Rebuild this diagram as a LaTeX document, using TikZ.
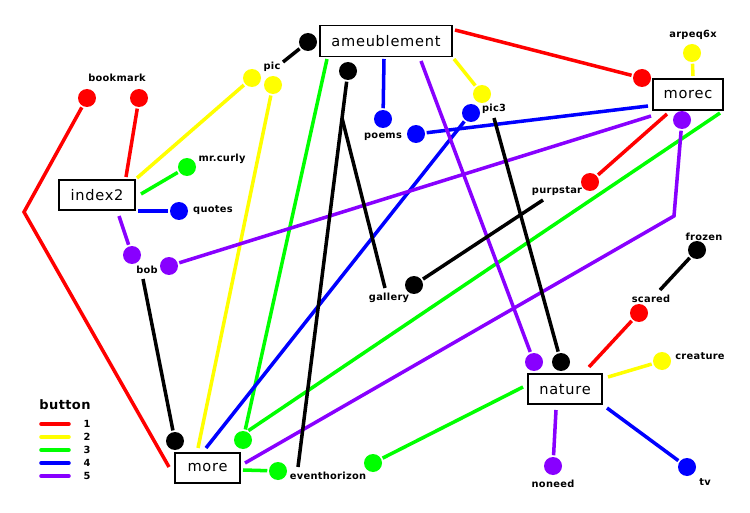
\documentclass[tikz,border=0pt]{standalone}
\usepackage{fontspec}
\setmainfont{DejaVu Sans}
\newfontfamily\mapfont[LetterSpace=5]{DejaVu Sans}
\newfontfamily\tagfont[LetterSpace=3]{DejaVu Sans Bold}

\definecolor{btnone}{RGB}{255,0,0}
\definecolor{btntwo}{RGB}{255,255,0}
\definecolor{btnthree}{RGB}{0,255,0}
\definecolor{btnfour}{RGB}{0,0,255}
\definecolor{btnfive}{RGB}{136,0,255}

\begin{document}
\begin{tikzpicture}[x=0.02cm, y=-0.02cm, line width=2pt,
  pagebox/.style={draw, line width=1.1pt, minimum width=#1, minimum height=0.6cm,
    inner sep=0pt, font=\mapfont\fontsize{8.3}{10}\selectfont},
  dot/.style={circle, fill=#1, inner sep=0pt, minimum size=0.36cm},
  lbl/.style={anchor=base, inner sep=0pt, font=\tagfont\fontsize{5.6}{7}\selectfont}]

  \useasboundingbox (0,0) rectangle (750,513);

  % ---------------- pages ----------------
  \node[pagebox=2.64cm, minimum height=0.62cm] (ameub) at (386,41) {ameublement};
  \node[pagebox=1.4cm, minimum height=0.62cm] (morec) at (688,94.5) {morec};
  \node[pagebox=1.52cm] (index) at (97,195) {index2};
  \node[pagebox=1.3cm] (more) at (207.5,468) {more};
  \node[pagebox=1.48cm] (nature) at (565,389) {nature};

  % ---------------- labels ----------------
  \node[lbl] (bookmark) at (117,82) {bookmark};
  \node[lbl] (mrcurly) at (222,162) {mr.curly};
  \node[lbl] (quotes) at (213,213) {quotes};
  \node[lbl] (bob) at (147,273) {bob};
  \node[lbl] (pic) at (272,70) {pic};
  \node[lbl] (poems) at (383,139) {poems};
  \node[lbl] (picthree) at (494,112) {pic3};
  \node[lbl] (arpeq) at (693,38) {arpeq6x};
  \node[lbl] (purpstar) at (557,194) {purpstar};
  \node[lbl] (frozen) at (704,240) {frozen};
  \node[lbl] (scared) at (651,302) {scared};
  \node[lbl] (creature) at (700,359) {creature};
  \node[lbl] (gallery) at (389,300) {gallery};
  \node[lbl] (eventhorizon) at (328,479) {eventhorizon};
  \node[lbl] (noneed) at (553,487) {noneed};
  \node[lbl] (tv) at (705,485) {tv};

  % ---------------- dots ----------------
  \node[dot=btnone] (dbmone) at (87,98) {};
  \node[dot=btnone] (dbmtwo) at (139,98) {};
  \node[dot=btnone] (dmcred) at (642,78) {};
  \node[dot=btnone] (dpurp) at (590,182) {};
  \node[dot=btnone] (dscared) at (639,313) {};
  \node[dot=btntwo] (dpicone) at (252,78) {};
  \node[dot=btntwo] (dpictwo) at (273,85) {};
  \node[dot=btntwo] (dpicthree) at (482,94) {};
  \node[dot=btntwo] (darpeq) at (692,53) {};
  \node[dot=btntwo] (dcreature) at (662,361) {};
  \node[dot=btnthree] (dcurly) at (187,167) {};
  \node[dot=btnthree] (dmoreg) at (243,440) {};
  \node[dot=btnthree] (devent) at (278,471) {};
  \node[dot=btnthree] (dnatg) at (373,463) {};
  \node[dot=btnfour] (dpoemsone) at (383,119) {};
  \node[dot=btnfour] (dpoemstwo) at (416,134) {};
  \node[dot=btnfour] (dpicblue) at (471,113) {};
  \node[dot=btnfour] (dquotes) at (179,211) {};
  \node[dot=btnfour] (dtv) at (687,467) {};
  \node[dot=btnfive] (dbobone) at (132,255) {};
  \node[dot=btnfive] (dbobtwo) at (169,266) {};
  \node[dot=btnfive] (dnatp) at (534,362) {};
  \node[dot=btnfive] (dmcp) at (682,120) {};
  \node[dot=btnfive] (dnoneed) at (553,466) {};
  \node[dot=black] (dakone) at (308,42) {};
  \node[dot=black] (daktwo) at (348,71) {};
  \node[dot=black] (dgallery) at (414,285) {};
  \node[dot=black] (dmorek) at (175,441) {};
  \node[dot=black] (dnatk) at (561,362) {};
  \node[dot=black] (dfrozen) at (697,250) {};

  % free ends next to the pages and labels
  \coordinate (ia) at (126,177);  \coordinate (ib) at (137,178);
  \coordinate (ic) at (141,194);  \coordinate (id) at (138,211);
  \coordinate (ie) at (119,216);
  \coordinate (aa) at (455,30);   \coordinate (ab) at (454,59);
  \coordinate (ac) at (327,59);   \coordinate (ad) at (384,59);
  \coordinate (ae) at (421,61);
  \coordinate (ma) at (667,114);  \coordinate (mb) at (693,76);
  \coordinate (mc) at (720,113);  \coordinate (md) at (648,106);
  \coordinate (me) at (651,116);
  \coordinate (oa) at (169,467);  \coordinate (ob) at (198,448);
  \coordinate (oc) at (243,470);  \coordinate (od) at (206,448);
  \coordinate (oe) at (245,463);
  \coordinate (na) at (589,367);  \coordinate (nb) at (608,377);
  \coordinate (nc) at (523,387);  \coordinate (nd) at (607,408);
  \coordinate (ne) at (556,410);
  \coordinate (bendred) at (24,212);
  \coordinate (bendpurple) at (674,216);
  \coordinate (kpic) at (283,62);
  \coordinate (kevent) at (298,467);
  \coordinate (kgallery) at (385,288);
  \coordinate (kjoin) at (342,118);
  \coordinate (kpurp) at (543,200);
  \coordinate (kbob) at (143,279);
  \coordinate (kpicthree) at (494,118);
  \coordinate (kscared) at (660,290);

  % ---------------- button 1 ----------------
  \draw[btnone] (oa) -- (bendred) -- (dbmone);
  \draw[btnone] (ia) -- (dbmtwo);
  \draw[btnone] (aa) -- (dmcred);
  \draw[btnone] (ma) -- (dpurp);
  \draw[btnone] (na) -- (dscared);
  % ---------------- button 2 ----------------
  \draw[btntwo] (ib) -- (dpicone);
  \draw[btntwo] (ob) -- (dpictwo);
  \draw[btntwo] (ab) -- (dpicthree);
  \draw[btntwo] (mb) -- (darpeq);
  \draw[btntwo] (nb) -- (dcreature);
  % ---------------- button 3 ----------------
  \draw[btnthree] (ic) -- (dcurly);
  \draw[btnthree] (ac) -- (dmoreg);
  \draw[btnthree] (mc) -- (dmoreg.60);
  \draw[btnthree] (oc) -- (devent);
  \draw[btnthree] (nc) -- (dnatg);
  % ---------------- button 4 ----------------
  \draw[btnfour] (ad) -- (dpoemsone);
  \draw[btnfour] (md) -- (dpoemstwo);
  \draw[btnfour] (od) -- (dpicblue);
  \draw[btnfour] (id) -- (dquotes);
  \draw[btnfour] (nd) -- (dtv);
  % ---------------- button 5 ----------------
  \draw[btnfive] (ie) -- (dbobone);
  \draw[btnfive] (me) -- (dbobtwo);
  \draw[btnfive] (ae) -- (dnatp);
  \draw[btnfive] (oe) -- (bendpurple) -- (dmcp);
  \draw[btnfive] (ne) -- (dnoneed);
  % ---------------- black ----------------
  \draw (kpic) -- (dakone);
  \draw (kevent) -- (daktwo);
  \draw (kgallery) -- (kjoin);
  \draw (kpurp) -- (dgallery);
  \draw (kbob) -- (dmorek);
  \draw (kpicthree) -- (dnatk);
  \draw (kscared) -- (dfrozen);

  % ---------------- legend ----------------
  \node[lbl, font=\tagfont\fontsize{7.4}{9}\selectfont] (button) at (65,409) {button};
  \draw[btnone, line cap=round] (41,424) -- (69,424);
  \draw[btntwo, line cap=round] (41,437) -- (69,437);
  \draw[btnthree, line cap=round] (41,450) -- (69,450);
  \draw[btnfour, line cap=round] (41,463) -- (69,463);
  \draw[btnfive, line cap=round] (41,476) -- (69,476);
  \node[lbl] (one) at (87,427.5) {1};
  \node[lbl] (two) at (87,440.5) {2};
  \node[lbl] (three) at (87,453.5) {3};
  \node[lbl] (four) at (87,466.5) {4};
  \node[lbl] (five) at (87,479.5) {5};

\end{tikzpicture}
\end{document}
